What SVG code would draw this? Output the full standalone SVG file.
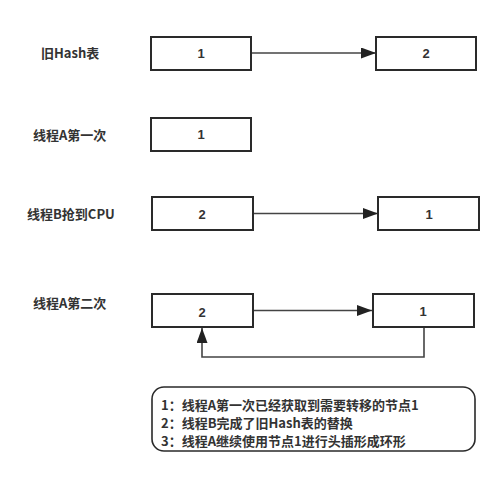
<svg xmlns="http://www.w3.org/2000/svg" width="504" height="477" viewBox="0 0 504 477">
<style>
.box{fill:#fff;stroke:#2a2a2a;stroke-width:2}
.lbl{font-family:"Noto Sans CJK SC","Liberation Sans",sans-serif;font-size:13px;font-weight:bold;fill:#333}
.num{font-family:"Liberation Sans","Noto Sans CJK SC",sans-serif;font-size:13px;font-weight:bold;fill:#333;text-anchor:middle}
.edge{fill:none;stroke:#444;stroke-width:1.6}
</style>
<defs>
<marker id="arr" markerUnits="userSpaceOnUse" markerWidth="16" markerHeight="12" refX="15" refY="5.5" orient="auto">
<path d="M0,0 L15,5.5 L0,11 Z" fill="#222"/>
</marker>
</defs>
<g id="labels">
<text class="lbl" x="41" y="58">旧Hash表</text>
<text class="lbl" x="33" y="140">线程A第一次</text>
<text class="lbl" x="27" y="219">线程B抢到CPU</text>
<text class="lbl" x="33" y="308">线程A第二次</text>
</g>
<g id="connectors">
<path class="edge" d="M252,53 L376,53" marker-end="url(#arr)"/>
<path class="edge" d="M253,213.5 L378,213.5" marker-end="url(#arr)"/>
<path class="edge" d="M253,310.5 L372,310.5" marker-end="url(#arr)"/>
<path class="edge" d="M424,327 L424,357 L202,357 L202,328" marker-end="url(#arr)"/>
</g>
<g id="n1"><rect class="box" x="151" y="37" width="100" height="33"/><text class="num" x="201" y="58">1</text></g>
<g id="n2"><rect class="box" x="376" y="37" width="100" height="33"/><text class="num" x="426" y="58">2</text></g>
<g id="n3"><rect class="box" x="151" y="118" width="100" height="33"/><text class="num" x="201" y="139">1</text></g>
<g id="n4"><rect class="box" x="152" y="197" width="101" height="33"/><text class="num" x="202" y="219">2</text></g>
<g id="n5"><rect class="box" x="378" y="197" width="101" height="33"/><text class="num" x="429" y="219">1</text></g>
<g id="n6"><rect class="box" x="152" y="294" width="101" height="33"/><text class="num" x="202" y="317">2</text></g>
<g id="n7"><rect class="box" x="373" y="294" width="101" height="33"/><text class="num" x="423" y="316">1</text></g>
<g id="note">
<rect x="152" y="387" width="323" height="64" rx="12" ry="12" fill="#fff" stroke="#2a2a2a" stroke-width="1.6"/>
<text class="lbl" x="161" y="410">1：线程A第一次已经获取到需要转移的节点1</text>
<text class="lbl" x="161" y="428">2：线程B完成了旧Hash表的替换</text>
<text class="lbl" x="161" y="446">3：线程A继续使用节点1进行头插形成环形</text>
</g>
</svg>
